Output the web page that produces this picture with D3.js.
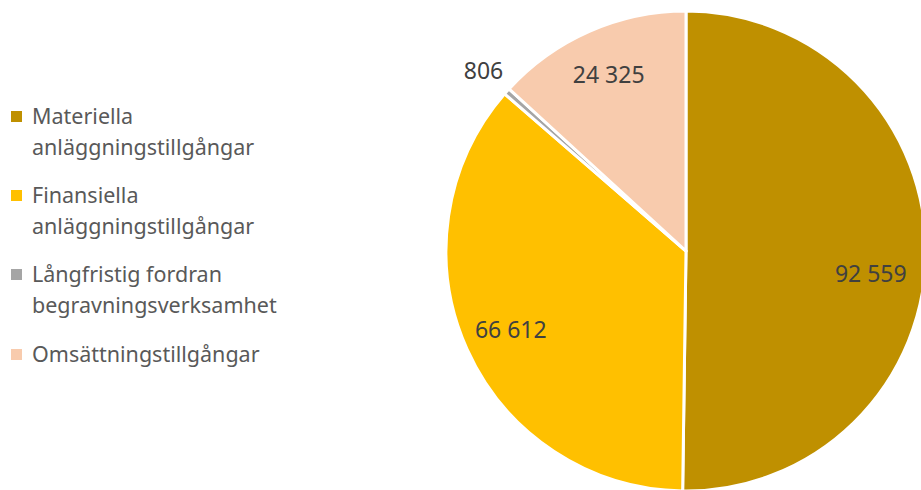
<!DOCTYPE html>
<html>
<head>
<meta charset="utf-8">
<script src="https://cdn.jsdelivr.net/npm/d3@7"></script>
<style>
  body { margin: 0; background: #fff; }
  svg { display: block; font-family: "Noto Sans", "Liberation Sans", sans-serif; }
</style>
</head>
<body>
<div class="chart"></div>
<script>

// data
var categories = ["Materiella anläggningstillgångar", "Finansiella anläggningstillgångar", "Långfristig fordran begravningsverksamhet", "Omsättningstillgångar"];
var legendLines = [["Materiella", "anläggningstillgångar"], ["Finansiella", "anläggningstillgångar"], ["Långfristig fordran", "begravningsverksamhet"], ["Omsättningstillgångar"]];
var values = [92559, 66612, 806, 24325];
var labels = ["92 559", "66 612", "806", "24 325"];
var colors = ["#bf9000", "#ffc000", "#a5a5a5", "#f8cbad"];

var width = 921, height = 490;
var cx = 686, cy = 251, radius = 240;

// label placement (fraction of radius, vertical nudge)
var labelRadius = [0.77, 0.8, 1.13, 0.8];
var labelNudge = [22, 0, 0, 0];

var svg = d3.select(".chart")
	.append("svg")
	.attr("width", width)
	.attr("height", height);

var pie = d3.pie().sort(null).value(d => d);
var arcs = pie(values);

var arc = d3.arc().innerRadius(0).outerRadius(radius);

var g = svg.append("g")
	.attr("transform", "translate(" + cx + "," + cy + ")");

g.selectAll("path")
	.data(arcs)
	.join("path")
	.attr("d", arc)
	.attr("fill", (d, i) => colors[i])
	.attr("stroke", "#fff")
	.attr("stroke-width", 3)
	.attr("stroke-linejoin", "round");

// data labels
g.selectAll("text.label")
	.data(arcs)
	.join("text")
	.attr("class", "label")
	.attr("transform", function(d, i) {
		var a = (d.startAngle + d.endAngle) / 2;
		var r = radius * labelRadius[i];
		return "translate(" + (Math.sin(a) * r) + "," + (-Math.cos(a) * r + labelNudge[i]) + ")";
	})
	.attr("text-anchor", "middle")
	.attr("dy", "0.35em")
	.style("font-size", "23px")
	.style("fill", "#404040")
	.text((d, i) => labels[i]);

// legend
var legend = svg.append("g").attr("class", "legend");
var lineH = 31, groupTop = [124, 203, 282, 362];

legendLines.forEach(function(lines, i) {
	var item = legend.append("g");
	item.append("rect")
		.attr("x", 11)
		.attr("y", groupTop[i] - 13)
		.attr("width", 11)
		.attr("height", 11)
		.attr("fill", colors[i]);
	lines.forEach(function(t, j) {
		item.append("text")
			.attr("x", 32)
			.attr("y", groupTop[i] + j * lineH)
			.style("font-size", "21.5px")
			.style("fill", "#595959")
			.text(t);
	});
});

</script>
</body>
</html>
